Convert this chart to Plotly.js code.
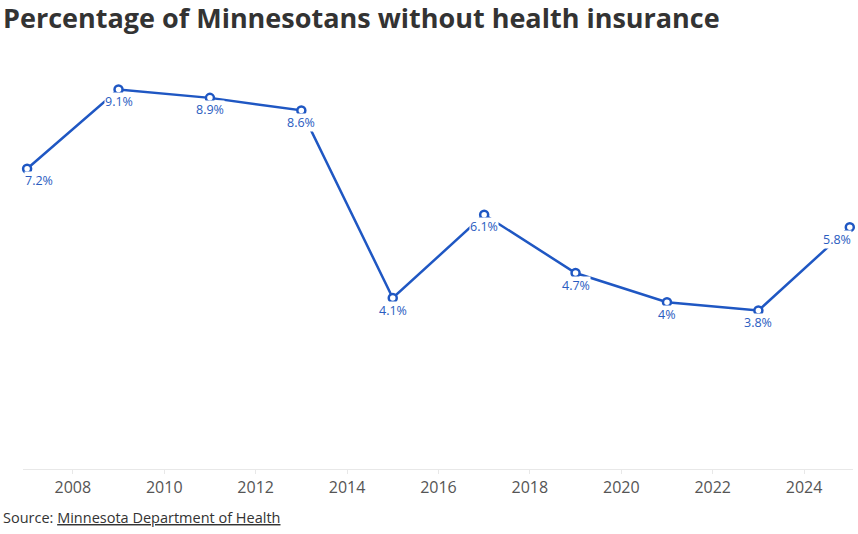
<!DOCTYPE html>
<html>
<head>
<meta charset="utf-8">
<script src="https://cdn.plot.ly/plotly-3.0.1.min.js"></script>
<style>
html,body{margin:0;padding:0;background:#fff;}
#chart{width:858px;height:534px;}
</style>
</head>
<body>
<div id="chart"></div>
<script>
const years = [2007, 2009, 2011, 2013, 2015, 2017, 2019, 2021, 2023, 2025];
const uninsured = [7.2, 9.1, 8.9, 8.6, 4.1, 6.1, 4.7, 4.0, 3.8, 5.8];
const valueLabels = ["7.2%", "9.1%", "8.9%", "8.6%", "4.1%", "6.1%", "4.7%", "4%", "3.8%", "5.8%"];
const tickYears = [2008, 2010, 2012, 2014, 2016, 2018, 2020, 2022, 2024];
const titleText = "Percentage of Minnesotans without health insurance";
const sourceText = "Source: <u>Minnesota Department of Health</u>";

const blue = "#1f57c3";

const trace = {
  x: years,
  y: uninsured,
  type: "scatter",
  mode: "lines+markers",
  line: {color: blue, width: 2.5},
  marker: {size: 8, color: "#ffffff", line: {color: blue, width: 2.5}},
  hoverinfo: "skip",
  cliponaxis: false
};

const annotations = years.map((yr, i) => {
  const last = i === years.length - 1;
  const first = i === 0;
  return {
    x: yr, y: uninsured[i], xref: "x", yref: "y",
    text: valueLabels[i], showarrow: false,
    xanchor: first ? "left" : (last ? "right" : "center"),
    xshift: first ? -3 : (last ? 2 : 0),
    yanchor: "middle", yshift: -12,
    bgcolor: "#ffffff", borderpad: 0,
    font: {family: "'Open Sans', sans-serif", size: 12.5, weight: 500, color: "#2a5cbf"}
  };
});

annotations.push({
  xref: "paper", yref: "paper", x: 0, y: 0,
  xanchor: "left", yanchor: "middle",
  xshift: -22, yshift: -48,
  text: sourceText, showarrow: false,
  font: {family: "'Open Sans', sans-serif", size: 14.5, color: "#333333"}
});

const layout = {
  width: 858, height: 534,
  margin: {l: 23, r: 5, t: 52, b: 64.5},
  paper_bgcolor: "#ffffff", plot_bgcolor: "#ffffff",
  showlegend: false,
  title: {
    text: "<b>" + titleText + "</b>",
    x: 3 / 858, xref: "container", xanchor: "left",
    y: 1 - 19 / 534, yref: "container", yanchor: "middle",
    font: {family: "'Open Sans', sans-serif", size: 27, color: "#333333"}
  },
  xaxis: {
    range: [2006.91, 2025.07],
    tickvals: tickYears,
    ticktext: tickYears.map(String),
    showgrid: false, zeroline: false,
    showline: true, linecolor: "#e8e8e8", linewidth: 1,
    ticks: "outside", ticklen: 4, tickcolor: "#e8e8e8",
    tickfont: {family: "'Open Sans', sans-serif", size: 16, color: "#555555"},
    fixedrange: true
  },
  yaxis: {
    range: [0, 10],
    visible: false, showgrid: false, zeroline: false,
    fixedrange: true
  },
  annotations: annotations
};

Plotly.newPlot("chart", [trace], layout, {displayModeBar: false, staticPlot: true});
</script>
</body>
</html>
